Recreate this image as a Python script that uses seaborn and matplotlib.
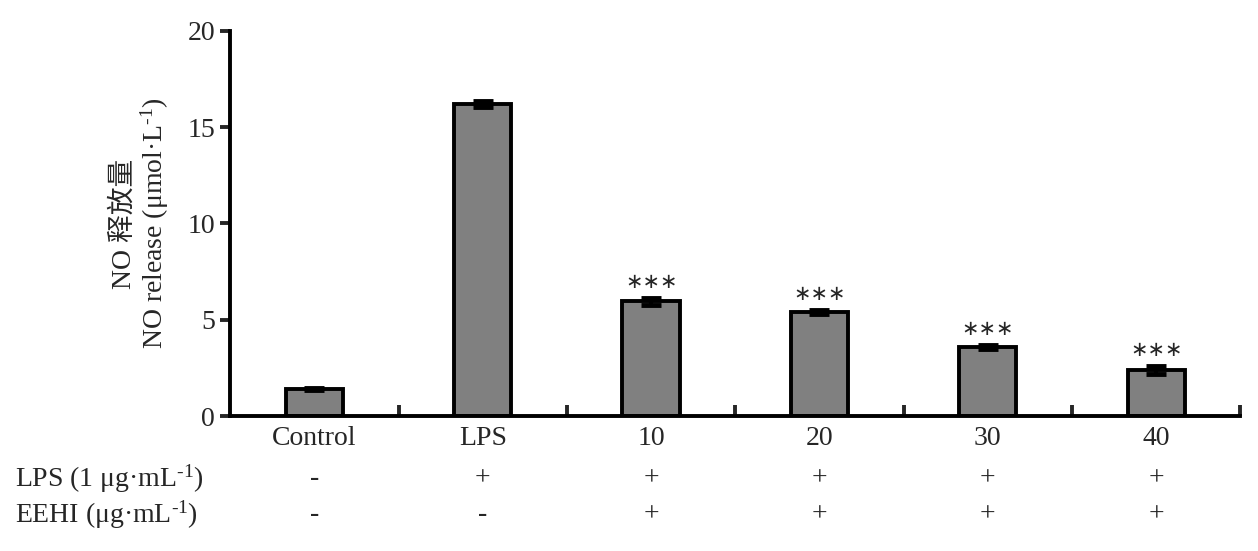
import numpy as np
import pandas as pd
import matplotlib
matplotlib.use('Agg')
import matplotlib.pyplot as plt
import matplotlib.transforms as mtransforms
from matplotlib.ticker import FixedLocator
import seaborn as sns

# Daten aus der Abbildung
groups = ['Control', 'LPS', '10', '20', '30', '40']
no_release = [1.4, 16.2, 5.95, 5.4, 3.6, 2.4]
sem = [0.05, 0.15, 0.2, 0.1, 0.1, 0.2]
signif = ['', '', '∗∗∗', '∗∗∗', '∗∗∗', '∗∗∗']
lps_row = ['-', '+', '+', '+', '+', '+']
eehi_row = ['-', '-', '+', '+', '+', '+']
row_labels = ['LPS (1 μg·mL$^{\u2010 1}$)', 'EEHI (μg·mL$^{\u2010 1}$)']

sns.set_style('white')
plt.rcParams['font.family'] = ['Liberation Serif', 'Noto Sans CJK SC', 'DejaVu Sans']
plt.rcParams['mathtext.fontset'] = 'custom'
plt.rcParams['mathtext.rm'] = 'Liberation Serif'
plt.rcParams['mathtext.it'] = 'Liberation Serif'

fs = 20
df = pd.DataFrame({'group': groups, 'value': no_release})

fig = plt.figure(figsize=(12.58, 5.51), dpi=100)
ax = fig.add_axes([0.183, 0.245, 0.803, 0.699])

sns.barplot(data=df, x='group', y='value', order=groups, color='#808080',
            width=0.34, edgecolor='black', linewidth=2.8, saturation=1, ax=ax)
x = np.arange(len(groups))
ax.errorbar(x, no_release, yerr=sem, fmt='none', ecolor='black',
            elinewidth=3, capsize=7, capthick=3.5, zorder=5)

for xi, v, e, s in zip(x, no_release, sem, signif):
    if s:
        ax.text(xi, v + e + 0.3, s, ha='center', va='bottom', fontsize=15,
                family=['DejaVu Sans'])

ax.set_xlim(-0.5, len(groups) - 0.5)
ax.set_ylim(0, 20)
ax.set_yticks([0, 5, 10, 15, 20])
ax.set_xlabel('')
ax.set_ylabel('NO 释放量\nNO release (μmol·L$^{\u2010 1}$)', fontsize=fs, labelpad=12,
              linespacing=1.05)

sns.despine(ax=ax)
for side in ['left', 'bottom']:
    ax.spines[side].set_linewidth(2.8)
    ax.spines[side].set_color('black')

ax.tick_params(axis='y', direction='out', length=7, width=2.8, labelsize=fs, pad=4, left=True)
ax.tick_params(axis='x', which='major', length=0, labelsize=fs, pad=7)
ax.xaxis.set_minor_locator(FixedLocator(np.arange(0.5, len(groups), 1.0)))
ax.tick_params(axis='x', which='minor', direction='in', length=8, width=2.8, bottom=True)

# Behandlungstabelle unter der Achse
trans = mtransforms.blended_transform_factory(ax.transData, fig.transFigure)
for row_y, label, row in zip([0.131, 0.066], row_labels, [lps_row, eehi_row]):
    fig.text(0.012, row_y, label, fontsize=fs, ha='left', va='center')
    for xi, sym in zip(x, row):
        ax.text(xi, row_y, sym, fontsize=fs, ha='center', va='center',
                transform=trans, clip_on=False)

fig.savefig('out.png', dpi=100)
